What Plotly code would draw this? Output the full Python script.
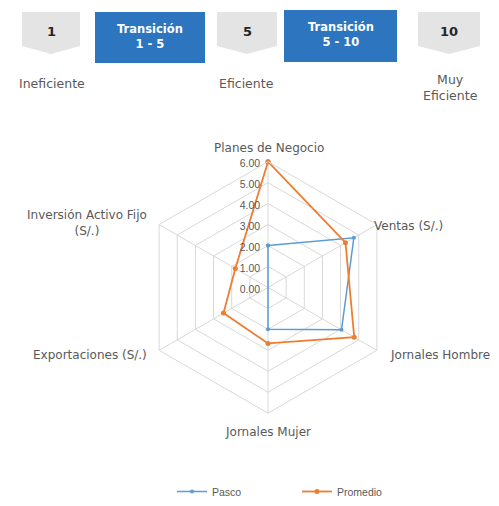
import plotly.graph_objects as go

categories = ["Planes de Negocio", "Ventas (S/.)", "Jornales Hombre", "Jornales Mujer",
              "Exportaciones (S/.)", "Inversión Activo Fijo (S/.)"]
pasco = [2.0, 4.73, 4.05, 2.0, 0.0, 0.0]
promedio = [6.0, 4.27, 4.75, 2.67, 2.45, 1.8]
radial_ticks = [0, 1, 2, 3, 4, 5, 6]
radial_ticktext = ["0.00", "1.00", "2.00", "3.00", "4.00", "5.00", "6.00"]

W, H = 499, 506
def px(x): return x / W
def py(y): return 1 - y / H

FONT = "Liberation Sans, Arial, sans-serif"
LFONT = "DejaVu Sans, sans-serif"
TXT = "#595959"

fig = go.Figure()
fig.add_trace(go.Scatterpolar(
    r=pasco + pasco[:1], theta=categories + categories[:1], name="Pasco",
    mode="lines+markers", line=dict(color="#5B9BD5", width=1.5),
    marker=dict(size=4, color="#5B9BD5"), legend="legend"))
fig.add_trace(go.Scatterpolar(
    r=promedio + promedio[:1], theta=categories + categories[:1], name="Promedio",
    mode="lines+markers", line=dict(color="#ED7D31", width=1.8),
    marker=dict(size=5, color="#ED7D31"), legend="legend2"))

cx, cy, R = 268, 288, 126
leg = dict(orientation="h", xanchor="left", yanchor="middle", y=py(492),
           font=dict(size=10.5, color=TXT), itemwidth=30, bgcolor="rgba(0,0,0,0)")
fig.update_layout(
    width=W, height=H, margin=dict(l=0, r=0, t=0, b=0),
    paper_bgcolor="white", plot_bgcolor="white",
    font=dict(family=FONT, color=TXT, size=10),
    polar=dict(
        domain=dict(x=[px(cx - R), px(cx + R)], y=[py(cy + R), py(cy - R)]),
        bgcolor="white", gridshape="linear",
        radialaxis=dict(range=[0, 6], tickvals=radial_ticks, ticktext=radial_ticktext,
                        angle=90, side="counterclockwise", showline=False,
                        gridcolor="#d9d9d9", gridwidth=1, ticks="",
                        tickfont=dict(size=10.5, color=TXT)),
        angularaxis=dict(direction="clockwise", rotation=90, showticklabels=False,
                         gridcolor="#d9d9d9", linecolor="#d9d9d9", linewidth=1, ticks=""),
    ),
    showlegend=True,
    legend=dict(leg, x=px(172)),
    legend2=dict(leg, x=px(297)),
)

def ann(text, x, y, size, color=TXT, family=LFONT):
    fig.add_annotation(text=text, x=px(x), y=py(y), xref="paper", yref="paper",
                       xanchor="center", yanchor="middle", showarrow=False, align="center",
                       font=dict(size=size, color=color, family=family))

# axis labels
labels = [
    ("Planes de Negocio", 269, 148),
    ("Ventas (S/.)", 408, 226),
    ("Jornales Hombre", 440, 356),
    ("Jornales Mujer", 268, 433),
    ("Exportaciones (S/.)", 90, 356),
    ("Inversión Activo Fijo<br>(S/.)", 87, 223),
]
for t, x, y in labels:
    ann(t, x, y, 12)

# header boxes
def pent(x0, x1, y0, y1, tip):
    xm = (x0 + x1) / 2
    pts = [(x0, y0), (x1, y0), (x1, y1), (xm, tip), (x0, y1)]
    return "M " + " L ".join(f"{px(a):.4f},{py(b):.4f}" for a, b in pts) + " Z"

for x0, x1, lab in [(22, 80, "1"), (217, 277, "5"), (418, 480, "10")]:
    fig.add_shape(type="path", path=pent(x0, x1, 12, 46, 54), xref="paper", yref="paper",
                  fillcolor="#e4e4e4", line=dict(width=0))
    ann(f"<b>{lab}</b>", (x0 + x1) / 2, 32, 13, "#262626")

for x0, x1, y0, y1, lab in [(95, 205, 12, 63, "Transición<br>1 - 5"),
                            (284, 397, 10, 62, "Transición<br>5 - 10")]:
    fig.add_shape(type="rect", x0=px(x0), x1=px(x1), y0=py(y1), y1=py(y0),
                  xref="paper", yref="paper", fillcolor="#2E75C0", line=dict(width=0))
    ann(f"<b>{lab}</b>", (x0 + x1) / 2, (y0 + y1) / 2 - 1, 11.5, "white")

for t, x, y in [("Ineficiente", 52, 84), ("Eficiente", 246, 84), ("Muy<br>Eficiente", 450, 88)]:
    ann(t, x, y, 12.5)

fig.write_html("out.html", config={"displayModeBar": False},
               post_script="document.body.style.margin='0';")
